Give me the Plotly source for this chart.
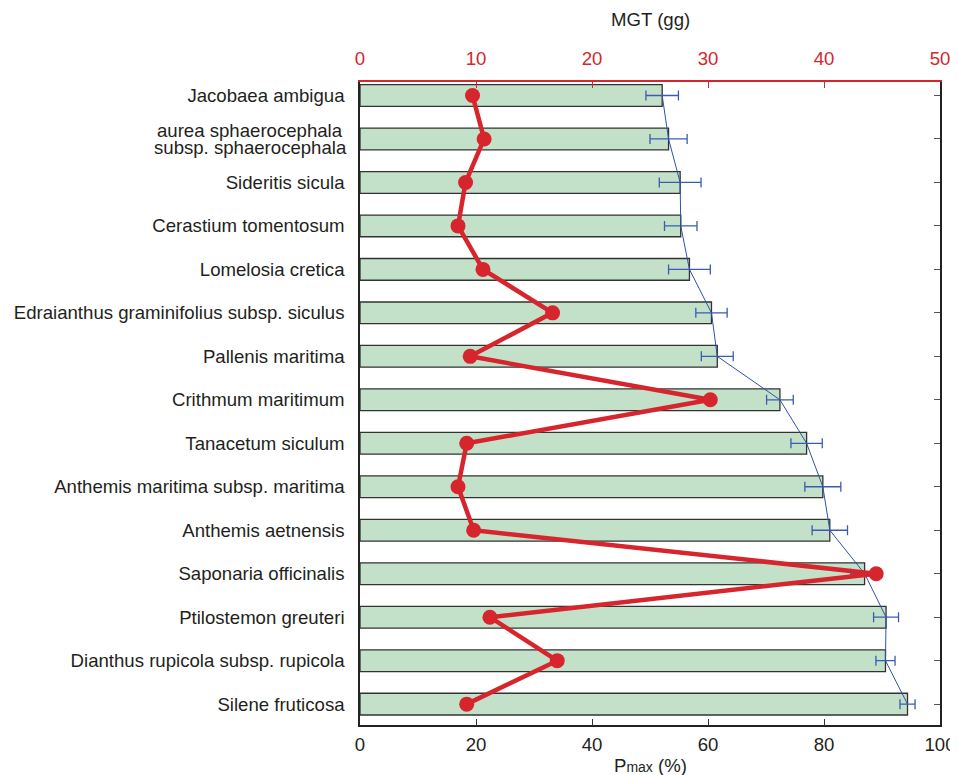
import plotly.graph_objects as go

species = [
    "Jacobaea ambigua",
    "aurea sphaerocephala subsp. sphaerocephala",
    "Sideritis sicula",
    "Cerastium tomentosum",
    "Lomelosia cretica",
    "Edraianthus graminifolius subsp. siculus",
    "Pallenis maritima",
    "Crithmum maritimum",
    "Tanacetum siculum",
    "Anthemis maritima subsp. maritima",
    "Anthemis aetnensis",
    "Saponaria officinalis",
    "Ptilostemon greuteri",
    "Dianthus rupicola subsp. rupicola",
    "Silene fruticosa",
]
# the second label is written on two lines in the chart
two_line_label = ["aurea sphaerocephala", "subsp. sphaerocephala"]

pmax = [52.1, 53.2, 55.2, 55.3, 56.8, 60.6, 61.6, 72.4, 77.0, 79.8, 81.0, 87.0, 90.7, 90.6, 94.4]
pmax_err = [2.8, 3.2, 3.6, 2.8, 3.6, 2.7, 2.75, 2.3, 2.7, 3.1, 3.05, 2.4, 2.15, 1.65, 1.3]
mgt = [9.7, 10.7, 9.1, 8.45, 10.6, 16.6, 9.5, 30.2, 9.2, 8.45, 9.8, 44.5, 11.2, 17.0, 9.2]

bottom_ticks = [0, 20, 40, 60, 80, 100]
top_ticks = [0, 10, 20, 30, 40, 50]

RED = "#d7252d"
BLUE = "#2f52a8"
TXT = "#231f20"
FONT = "Liberation Sans, Arial, sans-serif"
FS = 18.6

ticktext = ["" if s == species[1] else s for s in species]

fig = go.Figure()

fig.add_trace(go.Bar(
    x=pmax, y=species, orientation="h", width=0.5,
    marker=dict(color="#c3e0c9", line=dict(color="#333333", width=1.3)),
    showlegend=False, xaxis="x", yaxis="y",
))

fig.add_trace(go.Scatter(
    x=pmax, y=species, mode="lines",
    line=dict(color=BLUE, width=1),
    error_x=dict(type="data", array=pmax_err, color="#3a5cb2", thickness=1.3, width=5),
    showlegend=False, xaxis="x", yaxis="y",
))

# invisible trace to anchor the right-hand axis
fig.add_trace(go.Scatter(
    x=pmax, y=species, mode="markers", marker=dict(opacity=0),
    hoverinfo="skip", showlegend=False, xaxis="x", yaxis="y2",
))

fig.add_trace(go.Scatter(
    x=mgt, y=species, mode="lines+markers",
    line=dict(color=RED, width=4.5),
    marker=dict(color=RED, size=15),
    showlegend=False, xaxis="x2", yaxis="y",
))

yrange = [len(species) - 1 + 0.48, -0.31]

# figure is 950x767 (page adds an 8px body margin)
FIG_W, FIG_H = 950, 767
plot_top, plot_bot = 74, 717
h = plot_bot - plot_top

annotations = [
    dict(text=two_line_label[0], x=0, xref="paper", xanchor="right", xshift=-15,
         y=species[1], yref="y", yanchor="middle", yshift=8.5, showarrow=False,
         font=dict(size=FS, color=TXT)),
    dict(text=two_line_label[1], x=0, xref="paper", xanchor="right", xshift=-11,
         y=species[1], yref="y", yanchor="middle", yshift=-8.5, showarrow=False,
         font=dict(size=FS, color=TXT)),
    dict(text="MGT (gg)", x=0.5, xref="paper", xanchor="center",
         y=(plot_bot - 12) / h, yref="paper", yanchor="middle", showarrow=False,
         font=dict(size=FS, color=TXT)),
    dict(text="P<span style='font-size:14px'>max</span> (%)", x=0.5, xref="paper",
         xanchor="center", y=(plot_bot - 757) / h, yref="paper", yanchor="middle",
         showarrow=False, font=dict(size=FS, color=TXT)),
]

fig.update_layout(
    width=FIG_W, height=FIG_H,
    margin=dict(l=352, r=18, t=plot_top, b=FIG_H - plot_bot, autoexpand=False),
    paper_bgcolor="white", plot_bgcolor="white",
    font=dict(family=FONT, size=FS, color=TXT),
    annotations=annotations,
    xaxis=dict(
        range=[0, 100], tickvals=bottom_ticks, ticks="inside", ticklen=6,
        tickcolor="#333333", showline=True, linecolor="#222222", linewidth=1.5,
        showgrid=False, zeroline=False, automargin=False, ticklabelstandoff=2,
        tickfont=dict(size=FS, color=TXT),
    ),
    xaxis2=dict(
        range=[0, 50], tickvals=top_ticks, overlaying="x", side="top", anchor="y",
        ticks="inside", ticklen=6, tickcolor=RED, showline=True, linecolor=RED,
        linewidth=1.5, showgrid=False, zeroline=False, automargin=False,
        ticklabelstandoff=8,
        tickfont=dict(size=FS, color=RED),
    ),
    yaxis=dict(
        categoryorder="array", categoryarray=species, range=yrange,
        tickmode="array", tickvals=species, ticktext=ticktext,
        ticks="", showline=True, linecolor="#222222", linewidth=1.5,
        showgrid=False, zeroline=False, ticklabelstandoff=10, automargin=False,
        tickfont=dict(size=FS, color=TXT),
    ),
    yaxis2=dict(
        categoryorder="array", categoryarray=species, range=yrange,
        overlaying="y", side="right", anchor="x", matches="y",
        ticks="inside", ticklen=6, tickcolor="#555555", showticklabels=False,
        showline=True, linecolor="#222222", linewidth=1.5,
        showgrid=False, zeroline=False, automargin=False,
    ),
)

fig.write_html("out.html")
